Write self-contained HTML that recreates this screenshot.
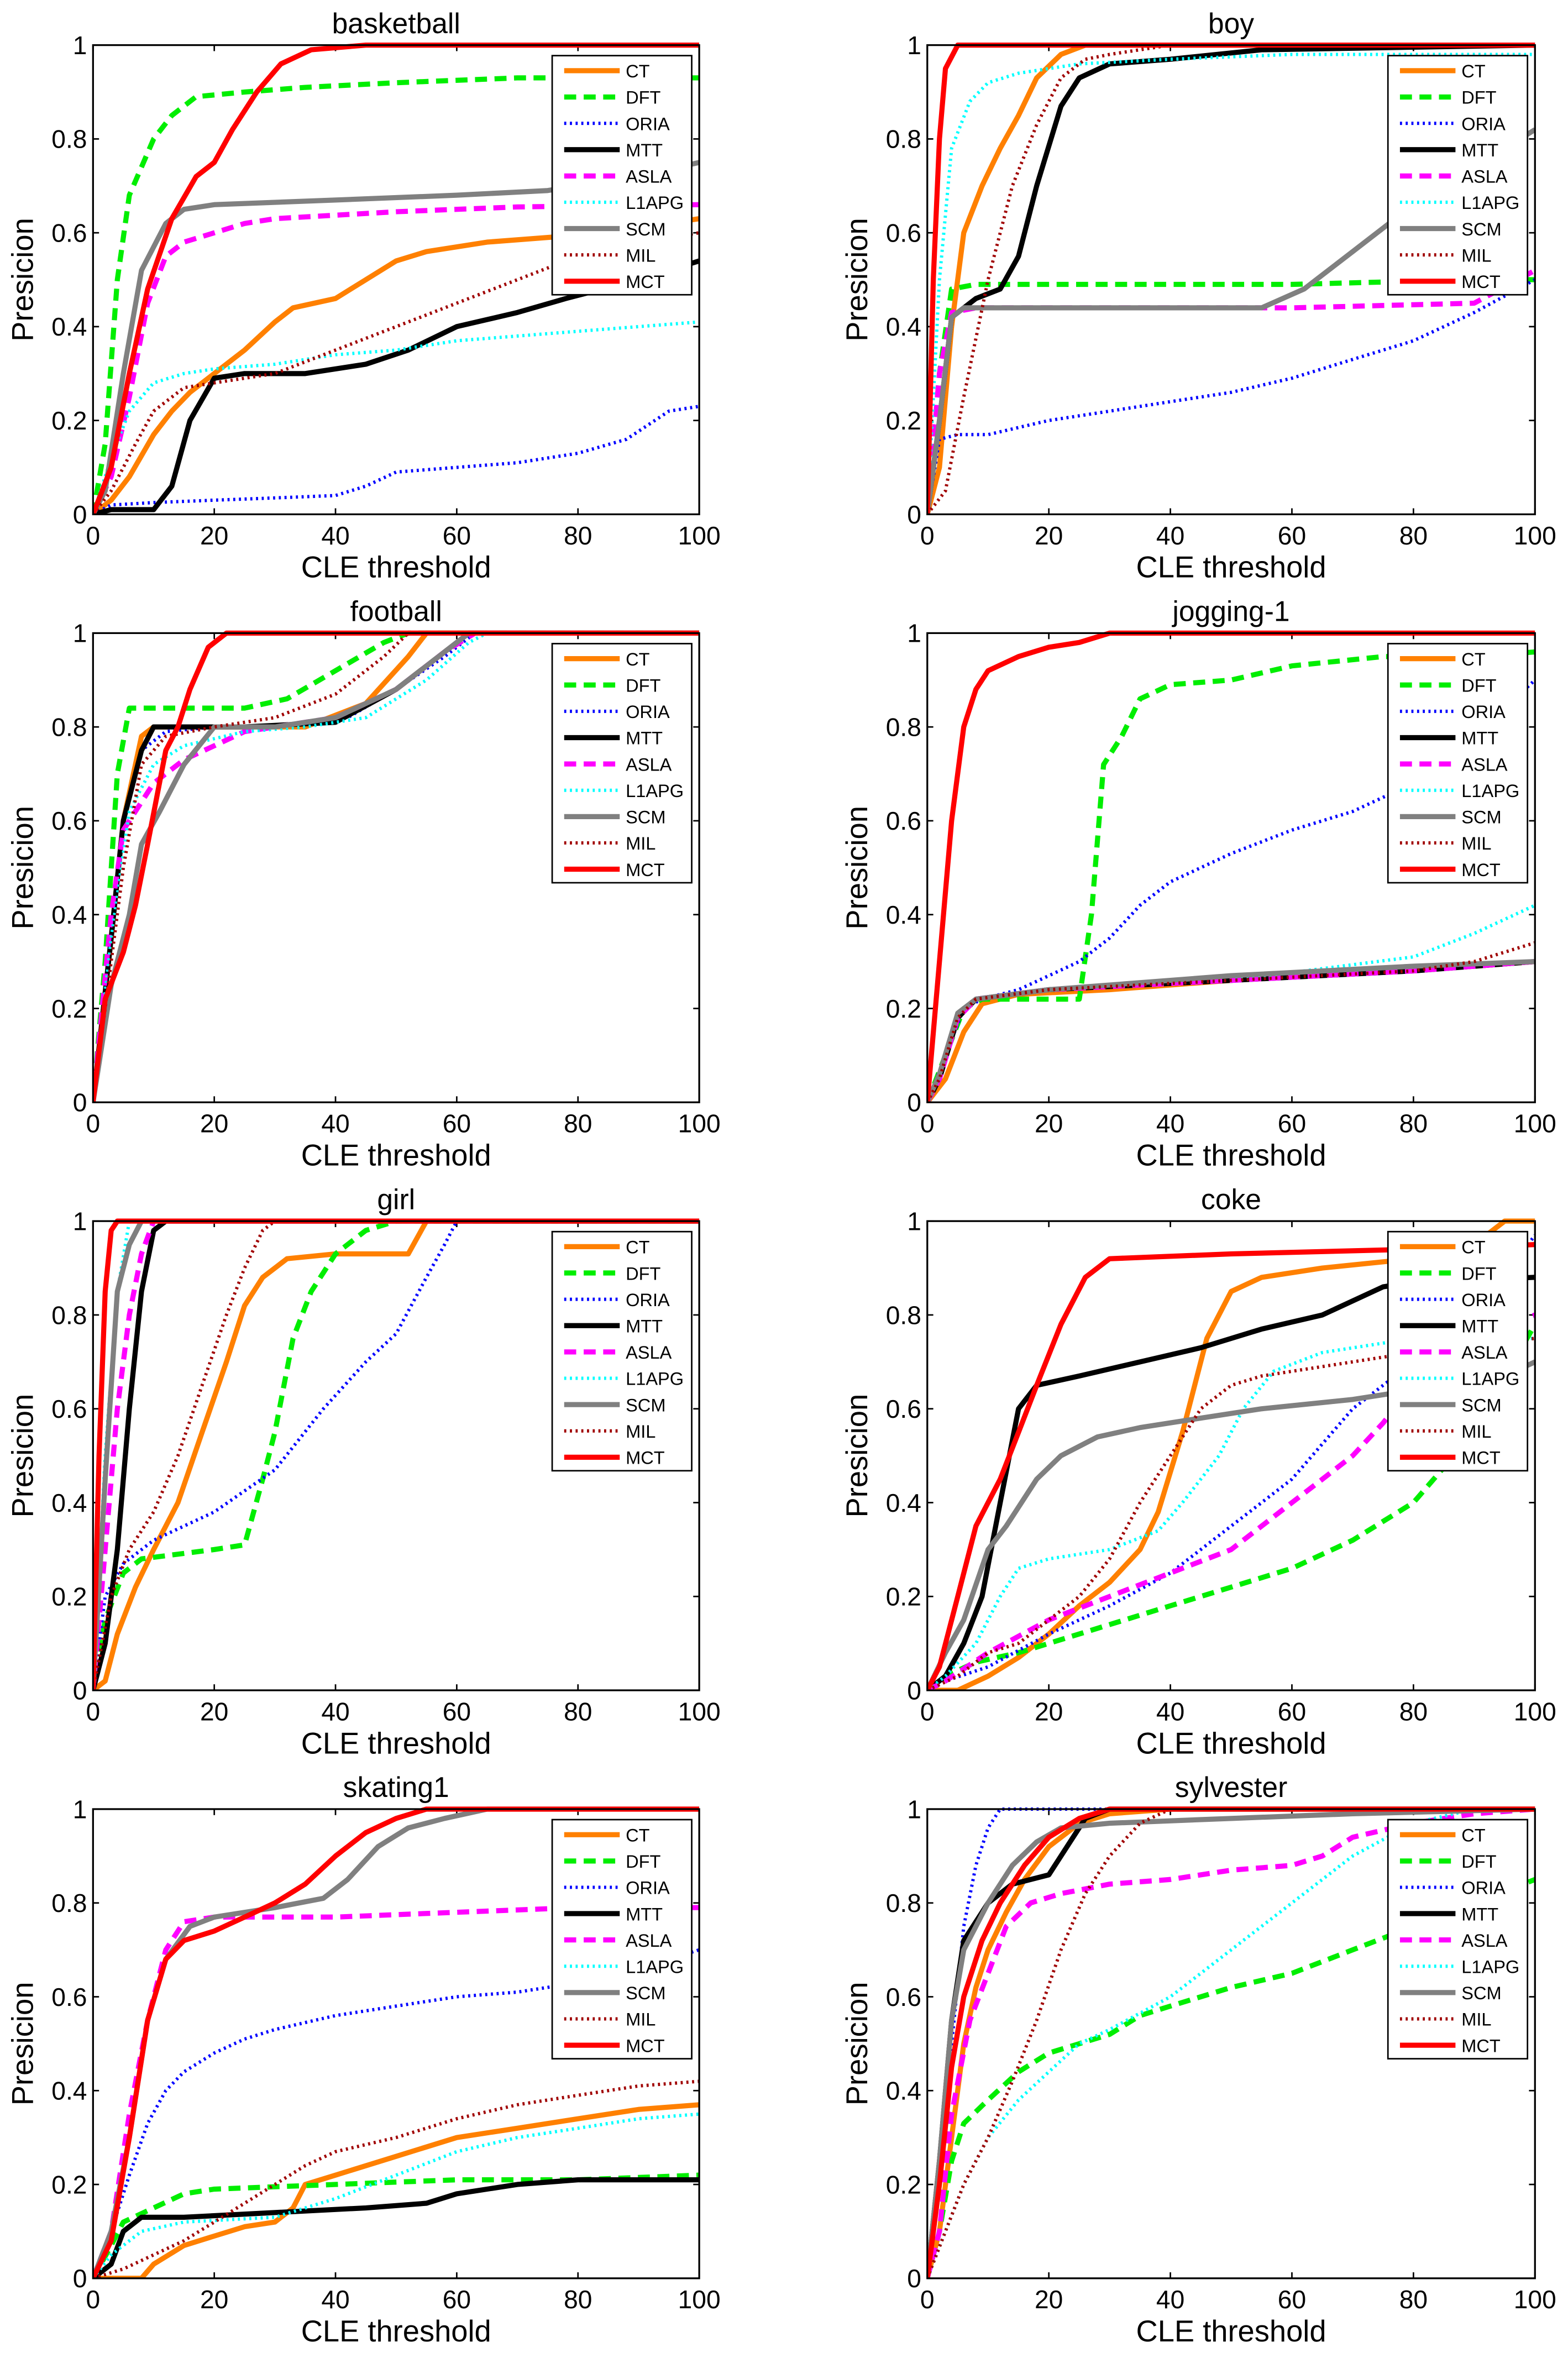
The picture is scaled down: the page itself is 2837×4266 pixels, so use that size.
<!DOCTYPE html>
<html><head><meta charset="utf-8"><style>
html,body{margin:0;padding:0;background:#fff;}
svg{display:block;}
text{font-family:"Liberation Sans",Arial,sans-serif;fill:#000;}
</style></head><body>
<svg id="fig" width="2837" height="4266" viewBox="0 0 1045 1568" preserveAspectRatio="none" xmlns="http://www.w3.org/2000/svg"></svg>
<script>
// ---- data (x = CLE threshold, y = precision) ----
const seriesNames = ["CT","DFT","ORIA","MTT","ASLA","L1APG","SCM","MIL","MCT"];
const panelTitles = ["basketball","boy","football","jogging-1","girl","coke","skating1","sylvester"];
const xTicks = [0,20,40,60,80,100];
const yTicks = [0,0.2,0.4,0.6,0.8,1];
const yTickLabels = ["0","0.2","0.4","0.6","0.8","1"];

const basketball_CT=[[0,0],[3,0.03],[6,0.08],[10,0.17],[13,0.22],[16,0.26],[20,0.3],[25,0.35],[30,0.41],[33,0.44],[40,0.46],[45,0.5],[50,0.54],[55,0.56],[65,0.58],[75,0.59],[85,0.6],[100,0.63]];
const basketball_DFT=[[0,0],[2,0.15],[4,0.5],[6,0.68],[10,0.8],[13,0.85],[17,0.89],[25,0.9],[35,0.91],[50,0.92],[70,0.93],[100,0.93]];
const basketball_ORIA=[[0,0],[3,0.02],[10,0.025],[20,0.03],[30,0.035],[40,0.04],[45,0.06],[50,0.09],[60,0.1],[70,0.11],[80,0.13],[88,0.16],[95,0.22],[100,0.23]];
const basketball_MTT=[[0,0],[3,0.01],[10,0.01],[13,0.06],[16,0.2],[20,0.29],[25,0.3],[35,0.3],[45,0.32],[52,0.35],[60,0.4],[70,0.43],[78,0.46],[90,0.5],[100,0.54]];
const basketball_ASLA=[[0,0],[3,0.08],[6,0.25],[9,0.45],[12,0.55],[15,0.58],[20,0.6],[25,0.62],[30,0.63],[50,0.645],[70,0.655],[100,0.66]];
const basketball_L1APG=[[0,0],[3,0.12],[6,0.22],[10,0.28],[15,0.3],[20,0.31],[30,0.32],[40,0.34],[50,0.35],[60,0.37],[80,0.39],[100,0.41]];
const basketball_SCM=[[0,0],[2,0.05],[5,0.3],[8,0.52],[12,0.62],[15,0.65],[20,0.66],[40,0.67],[60,0.68],[75,0.69],[90,0.72],[100,0.75]];
const basketball_MIL=[[0,0],[3,0.05],[7,0.15],[10,0.22],[15,0.27],[20,0.28],[30,0.3],[40,0.35],[50,0.4],[60,0.45],[70,0.5],[80,0.55],[90,0.58],[100,0.6]];
const basketball_MCT=[[0,0],[3,0.1],[6,0.3],[9,0.48],[13,0.63],[17,0.72],[20,0.75],[23,0.82],[27,0.9],[31,0.96],[36,0.99],[45,1],[100,1]];

const boy_CT=[[0,0],[2,0.1],[4,0.4],[6,0.6],[9,0.7],[12,0.78],[15,0.85],[18,0.93],[22,0.98],[26,1],[100,1]];
const boy_DFT=[[0,0],[2,0.3],[4,0.48],[8,0.49],[30,0.49],[60,0.49],[90,0.5],[100,0.5]];
const boy_ORIA=[[0,0],[2,0.16],[5,0.17],[10,0.17],[20,0.2],[30,0.22],[40,0.24],[50,0.26],[60,0.29],[70,0.33],[80,0.37],[90,0.43],[100,0.5]];
const boy_MTT=[[0,0],[2,0.2],[4,0.42],[8,0.46],[12,0.48],[15,0.55],[18,0.7],[22,0.87],[25,0.93],[30,0.96],[40,0.97],[55,0.99],[100,1]];
const boy_ASLA=[[0,0],[2,0.3],[4,0.43],[8,0.44],[60,0.44],[90,0.45],[100,0.52]];
const boy_L1APG=[[0,0],[2,0.5],[4,0.78],[7,0.88],[10,0.92],[15,0.94],[25,0.96],[40,0.97],[60,0.98],[100,0.98]];
const boy_SCM=[[0,0],[2,0.2],[4,0.42],[6,0.44],[55,0.44],[62,0.48],[70,0.56],[80,0.66],[90,0.74],[100,0.82]];
const boy_MIL=[[0,0],[3,0.05],[6,0.25],[10,0.5],[14,0.7],[18,0.83],[22,0.93],[26,0.97],[30,0.98],[40,1],[100,1]];
const boy_MCT=[[0,0],[1,0.5],[2,0.8],[3,0.95],[5,1],[100,1]];

const football_CT=[[0,0],[3,0.35],[5,0.6],[8,0.78],[10,0.8],[20,0.8],[35,0.8],[45,0.85],[52,0.95],[55,1],[100,1]];
const football_DFT=[[0,0],[2,0.3],[4,0.7],[6,0.84],[15,0.84],[25,0.84],[32,0.86],[40,0.92],[48,0.98],[52,1],[100,1]];
const football_ORIA=[[0,0],[3,0.35],[5,0.6],[8,0.75],[12,0.79],[20,0.8],[30,0.8],[42,0.82],[50,0.88],[58,0.95],[63,1],[100,1]];
const football_MTT=[[0,0],[3,0.35],[5,0.6],[8,0.75],[10,0.8],[25,0.8],[40,0.81],[50,0.88],[58,0.96],[62,1],[100,1]];
const football_ASLA=[[0,0],[3,0.4],[5,0.58],[10,0.68],[15,0.73],[20,0.76],[25,0.79],[30,0.8],[40,0.82],[50,0.88],[58,0.96],[63,1],[100,1]];
const football_L1APG=[[0,0],[3,0.35],[6,0.62],[10,0.72],[15,0.76],[25,0.79],[35,0.8],[45,0.82],[55,0.9],[62,0.98],[65,1],[100,1]];
const football_SCM=[[0,0],[3,0.25],[6,0.4],[8,0.55],[11,0.62],[15,0.72],[20,0.8],[30,0.8],[40,0.82],[50,0.88],[58,0.96],[62,1],[100,1]];
const football_MIL=[[0,0],[3,0.3],[5,0.5],[8,0.72],[12,0.78],[20,0.8],[30,0.82],[40,0.87],[48,0.95],[52,1],[100,1]];
const football_MCT=[[0,0],[2,0.22],[5,0.32],[7,0.42],[9,0.55],[12,0.75],[14,0.8],[16,0.88],[19,0.97],[22,1],[100,1]];

const jogging_CT=[[0,0],[3,0.05],[6,0.15],[9,0.21],[15,0.23],[30,0.24],[50,0.26],[70,0.28],[90,0.29],[100,0.3]];
const jogging_DFT=[[0,0],[3,0.1],[6,0.2],[9,0.22],[25,0.22],[27,0.4],[29,0.72],[32,0.78],[35,0.86],[40,0.89],[50,0.9],[60,0.93],[75,0.95],[90,0.95],[100,0.96]];
const jogging_ORIA=[[0,0],[3,0.1],[6,0.2],[9,0.22],[15,0.24],[20,0.27],[25,0.3],[30,0.35],[35,0.42],[40,0.47],[50,0.53],[60,0.58],[70,0.62],[80,0.68],[90,0.78],[100,0.9]];
const jogging_MTT=[[0,0],[2,0.05],[5,0.18],[8,0.22],[20,0.24],[50,0.26],[80,0.28],[100,0.3]];
const jogging_ASLA=[[0,0],[2,0.05],[5,0.18],[8,0.22],[20,0.24],[50,0.26],[80,0.28],[100,0.3]];
const jogging_L1APG=[[0,0],[2,0.05],[5,0.18],[8,0.22],[20,0.24],[50,0.26],[80,0.31],[90,0.36],[100,0.42]];
const jogging_SCM=[[0,0],[2,0.06],[5,0.19],[8,0.22],[20,0.24],[50,0.27],[80,0.29],[100,0.3]];
const jogging_MIL=[[0,0],[2,0.05],[5,0.18],[8,0.22],[20,0.24],[50,0.26],[80,0.28],[90,0.3],[100,0.34]];
const jogging_MCT=[[0,0],[2,0.3],[4,0.6],[6,0.8],[8,0.88],[10,0.92],[15,0.95],[20,0.97],[25,0.98],[30,1],[100,1]];

const girl_CT=[[0,0],[2,0.02],[4,0.12],[7,0.22],[10,0.3],[14,0.4],[18,0.55],[22,0.7],[25,0.82],[28,0.88],[32,0.92],[40,0.93],[52,0.93],[55,1],[100,1]];
const girl_DFT=[[0,0],[2,0.15],[5,0.25],[8,0.28],[20,0.3],[25,0.31],[28,0.45],[30,0.55],[33,0.75],[36,0.85],[40,0.93],[45,0.98],[50,1],[100,1]];
const girl_ORIA=[[0,0],[2,0.2],[5,0.27],[10,0.32],[20,0.38],[30,0.47],[38,0.6],[45,0.7],[50,0.76],[55,0.88],[58,0.95],[60,1],[100,1]];
const girl_MTT=[[0,0],[2,0.1],[4,0.3],[6,0.6],[8,0.85],[10,0.98],[12,1],[100,1]];
const girl_ASLA=[[0,0],[2,0.3],[4,0.6],[6,0.8],[8,0.93],[10,1],[100,1]];
const girl_L1APG=[[0,0],[2,0.5],[4,0.85],[6,1],[100,1]];
const girl_SCM=[[0,0],[2,0.45],[4,0.85],[6,0.95],[8,1],[100,1]];
const girl_MIL=[[0,0],[3,0.2],[6,0.3],[10,0.38],[14,0.5],[18,0.65],[22,0.8],[25,0.9],[28,0.98],[30,1],[100,1]];
const girl_MCT=[[0,0],[1,0.5],[2,0.85],[3,0.98],[4,1],[100,1]];

const coke_CT=[[0,0],[5,0],[10,0.03],[15,0.07],[20,0.12],[25,0.18],[30,0.23],[35,0.3],[38,0.38],[42,0.55],[46,0.75],[50,0.85],[55,0.88],[65,0.9],[80,0.92],[90,0.95],[95,1],[100,1]];
const coke_DFT=[[0,0],[3,0.03],[8,0.06],[15,0.08],[20,0.1],[30,0.14],[40,0.18],[50,0.22],[60,0.26],[70,0.32],[80,0.4],[90,0.55],[100,0.78]];
const coke_ORIA=[[0,0],[3,0.02],[10,0.05],[20,0.12],[30,0.18],[40,0.25],[50,0.35],[60,0.45],[70,0.6],[80,0.7],[90,0.8],[100,0.97]];
const coke_MTT=[[0,0],[3,0.03],[6,0.1],[9,0.2],[12,0.4],[15,0.6],[18,0.65],[25,0.67],[35,0.7],[45,0.73],[55,0.77],[65,0.8],[75,0.86],[80,0.87],[100,0.88]];
const coke_ASLA=[[0,0],[3,0.02],[10,0.08],[20,0.15],[30,0.2],[40,0.25],[50,0.3],[55,0.35],[60,0.4],[65,0.45],[70,0.5],[75,0.57],[80,0.65],[90,0.75],[100,0.8]];
const coke_L1APG=[[0,0],[3,0.03],[8,0.1],[12,0.2],[15,0.26],[20,0.28],[30,0.3],[38,0.34],[42,0.4],[48,0.5],[52,0.6],[57,0.68],[65,0.72],[80,0.75],[100,0.75]];
const coke_SCM=[[0,0],[3,0.08],[6,0.15],[10,0.3],[13,0.35],[18,0.45],[22,0.5],[28,0.54],[35,0.56],[45,0.58],[55,0.6],[70,0.62],[85,0.65],[95,0.67],[100,0.7]];
const coke_MIL=[[0,0],[5,0.03],[10,0.08],[15,0.1],[20,0.15],[25,0.2],[30,0.28],[35,0.4],[40,0.5],[45,0.6],[50,0.65],[55,0.67],[70,0.7],[85,0.73],[100,0.75]];
const coke_MCT=[[0,0],[2,0.05],[5,0.2],[8,0.35],[12,0.45],[15,0.55],[18,0.65],[22,0.78],[26,0.88],[30,0.92],[50,0.93],[80,0.94],[100,0.95]];

const skating_CT=[[0,0],[8,0],[10,0.03],[15,0.07],[20,0.09],[25,0.11],[30,0.12],[33,0.15],[35,0.2],[40,0.22],[50,0.26],[60,0.3],[70,0.32],[80,0.34],[90,0.36],[100,0.37]];
const skating_DFT=[[0,0],[3,0.07],[5,0.12],[10,0.15],[15,0.18],[20,0.19],[40,0.2],[60,0.21],[80,0.21],[100,0.22]];
const skating_ORIA=[[0,0],[3,0.1],[6,0.22],[9,0.33],[12,0.4],[15,0.44],[20,0.48],[25,0.51],[30,0.53],[40,0.56],[50,0.58],[60,0.6],[70,0.61],[80,0.63],[90,0.66],[100,0.7]];
const skating_MTT=[[0,0],[3,0.03],[5,0.1],[8,0.13],[15,0.13],[30,0.14],[45,0.15],[55,0.16],[60,0.18],[70,0.2],[80,0.21],[100,0.21]];
const skating_ASLA=[[0,0],[3,0.1],[6,0.35],[9,0.55],[12,0.7],[15,0.76],[20,0.77],[40,0.77],[60,0.78],[80,0.79],[100,0.79]];
const skating_L1APG=[[0,0],[3,0.05],[8,0.1],[15,0.12],[30,0.13],[40,0.17],[50,0.22],[60,0.27],[70,0.3],[80,0.32],[90,0.34],[100,0.35]];
const skating_SCM=[[0,0],[3,0.1],[6,0.3],[9,0.55],[12,0.68],[16,0.75],[20,0.77],[30,0.79],[38,0.81],[42,0.85],[47,0.92],[52,0.96],[58,0.98],[65,1],[100,1]];
const skating_MIL=[[0,0],[5,0.02],[10,0.05],[15,0.08],[20,0.12],[25,0.16],[30,0.2],[35,0.24],[40,0.27],[50,0.3],[60,0.34],[70,0.37],[80,0.39],[90,0.41],[100,0.42]];
const skating_MCT=[[0,0],[3,0.08],[6,0.3],[9,0.55],[12,0.68],[15,0.72],[20,0.74],[25,0.77],[30,0.8],[35,0.84],[40,0.9],[45,0.95],[50,0.98],[55,1],[100,1]];

const sylvester_CT=[[0,0],[2,0.1],[4,0.3],[6,0.5],[8,0.62],[10,0.7],[13,0.78],[16,0.85],[20,0.92],[25,0.97],[30,0.99],[40,1],[100,1]];
const sylvester_DFT=[[0,0],[2,0.1],[4,0.25],[6,0.33],[10,0.38],[15,0.44],[20,0.48],[25,0.5],[30,0.52],[35,0.56],[40,0.58],[50,0.62],[60,0.65],[70,0.7],[80,0.75],[90,0.8],[100,0.85]];
const sylvester_ORIA=[[0,0],[2,0.2],[4,0.5],[6,0.75],[8,0.88],[10,0.96],[12,1],[100,1]];
const sylvester_MTT=[[0,0],[2,0.25],[4,0.55],[6,0.72],[10,0.8],[14,0.84],[20,0.86],[23,0.92],[26,0.98],[30,1],[100,1]];
const sylvester_ASLA=[[0,0],[2,0.1],[4,0.35],[7,0.55],[10,0.65],[13,0.75],[17,0.8],[22,0.82],[30,0.84],[40,0.85],[50,0.87],[60,0.88],[65,0.9],[70,0.94],[80,0.97],[90,0.99],[100,1]];
const sylvester_L1APG=[[0,0],[3,0.1],[6,0.2],[10,0.3],[15,0.38],[20,0.44],[25,0.5],[30,0.53],[40,0.6],[50,0.7],[60,0.8],[70,0.9],[80,0.97],[90,1],[100,1]];
const sylvester_SCM=[[0,0],[2,0.25],[4,0.55],[6,0.7],[10,0.8],[14,0.88],[18,0.93],[22,0.96],[30,0.97],[50,0.98],[70,0.99],[100,1]];
const sylvester_MIL=[[0,0],[3,0.1],[6,0.2],[10,0.3],[14,0.42],[18,0.55],[22,0.7],[26,0.82],[30,0.9],[35,0.97],[40,1],[100,1]];
const sylvester_MCT=[[0,0],[2,0.2],[4,0.45],[6,0.6],[9,0.72],[12,0.8],[16,0.88],[20,0.94],[25,0.98],[30,1],[100,1]];

const panelData = [
 [basketball_CT,basketball_DFT,basketball_ORIA,basketball_MTT,basketball_ASLA,basketball_L1APG,basketball_SCM,basketball_MIL,basketball_MCT],
 [boy_CT,boy_DFT,boy_ORIA,boy_MTT,boy_ASLA,boy_L1APG,boy_SCM,boy_MIL,boy_MCT],
 [football_CT,football_DFT,football_ORIA,football_MTT,football_ASLA,football_L1APG,football_SCM,football_MIL,football_MCT],
 [jogging_CT,jogging_DFT,jogging_ORIA,jogging_MTT,jogging_ASLA,jogging_L1APG,jogging_SCM,jogging_MIL,jogging_MCT],
 [girl_CT,girl_DFT,girl_ORIA,girl_MTT,girl_ASLA,girl_L1APG,girl_SCM,girl_MIL,girl_MCT],
 [coke_CT,coke_DFT,coke_ORIA,coke_MTT,coke_ASLA,coke_L1APG,coke_SCM,coke_MIL,coke_MCT],
 [skating_CT,skating_DFT,skating_ORIA,skating_MTT,skating_ASLA,skating_L1APG,skating_SCM,skating_MIL,skating_MCT],
 [sylvester_CT,sylvester_DFT,sylvester_ORIA,sylvester_MTT,sylvester_ASLA,sylvester_L1APG,sylvester_SCM,sylvester_MIL,sylvester_MCT]
];

// ---- styles ----
const styles = [
 {c:"#ff8000",w:3.4,d:""},
 {c:"#00ee00",w:3.4,d:"8,5"},
 {c:"#0000ff",w:2.2,d:"1.4,2.4"},
 {c:"#000000",w:3.4,d:""},
 {c:"#ff00ff",w:3.4,d:"8,5"},
 {c:"#00ffff",w:2.2,d:"1.4,2.4"},
 {c:"#808080",w:3.4,d:""},
 {c:"#a00000",w:2.2,d:"1.4,2.4"},
 {c:"#ff0000",w:3.4,d:""}
];
const NS="http://www.w3.org/2000/svg";
const svg=document.getElementById('fig');
function mk(tag,attrs,parent){const e=document.createElementNS(NS,tag);for(const k in attrs)e.setAttribute(k,attrs[k]);(parent||svg).appendChild(e);return e;}

const colX=[62,618], AW=[404,405];
const rowTop=[30,421,812,1203], AH=312;

panelTitles.forEach((title,pi)=>{
  const col=pi%2,row=Math.floor(pi/2);
  const x0=colX[col],w=AW[col],y0=rowTop[row];
  const sx=v=>x0+v/100*w;
  const sy=v=>y0+AH-v*AH;
  const g=mk('g',{});
  
  
  const clipId='clip'+pi;
  const cp=mk('clipPath',{id:clipId},g);
  mk('rect',{x:x0,y:y0-2,width:w,height:AH+2},cp);
  const t=mk('text',{x:x0+w/2,y:y0-8,'text-anchor':'middle','font-size':19},g);
  t.textContent=title;
  
  
  xTicks.forEach(v=>{
    const x=sx(v);
    mk('line',{x1:x,x2:x,y1:y0+AH,y2:y0+AH-4,stroke:'#000','stroke-width':1},g);
    mk('line',{x1:x,x2:x,y1:y0,y2:y0+4,stroke:'#000','stroke-width':1},g);
    const tl=mk('text',{x:x,y:y0+AH+20,'text-anchor':'middle','font-size':17},g);
    tl.textContent=String(v);
    
    
  });
  yTicks.forEach((v,i)=>{
    const y=sy(v);
    mk('line',{x1:x0,x2:x0+4,y1:y,y2:y,stroke:'#000','stroke-width':1},g);
    mk('line',{x1:x0+w,x2:x0+w-4,y1:y,y2:y,stroke:'#000','stroke-width':1},g);
    const tl=mk('text',{x:x0-4,y:y+6,'text-anchor':'end','font-size':17},g);
    tl.textContent=yTickLabels[i];
    
    
  });
  const xl=mk('text',{x:x0+w/2,y:y0+AH+42,'text-anchor':'middle','font-size':20},g);
  xl.textContent='CLE threshold';
  
  
  const yx=x0-40, yy=y0+AH/2;
  const yl=mk('text',{x:yx,y:yy,'text-anchor':'middle','font-size':20,transform:'rotate(-90 '+yx+' '+yy+')'},g);
  yl.textContent='Presicion';
  
  
  const sg=mk('g',{'clip-path':'url(#'+clipId+')'},g);
  panelData[pi].forEach((pts,si)=>{
    const st=styles[si];
    const p=mk('polyline',{points:pts.map(q=>sx(q[0]).toFixed(1)+','+sy(q[1]).toFixed(1)).join(' '),fill:'none',stroke:st.c,'stroke-width':st.w,'stroke-dasharray':st.d||'none','stroke-linejoin':'round'},sg);
    
    
  });
  mk('rect',{x:x0,y:y0,width:w,height:AH,fill:'none',stroke:'#000','stroke-width':1.2},g);
  const lx=x0+w-98, ly=y0+7;
  const lg=mk('g',{},g);
  
  
  mk('rect',{x:lx,y:ly,width:93,height:159,fill:'#fff',stroke:'#000','stroke-width':1},lg);
  seriesNames.forEach((n,si)=>{
    const st=styles[si];
    const yy2=ly+10+si*17.5;
    const e=mk('g',{},lg);
    
    
    mk('line',{x1:lx+8,x2:lx+45,y1:yy2,y2:yy2,stroke:st.c,'stroke-width':st.w,'stroke-dasharray':st.d||'none'},e);
    const lt=mk('text',{x:lx+49,y:yy2+4.5,'font-size':12},e);
    lt.textContent=n;
  });
});
</script>
</body></html>
